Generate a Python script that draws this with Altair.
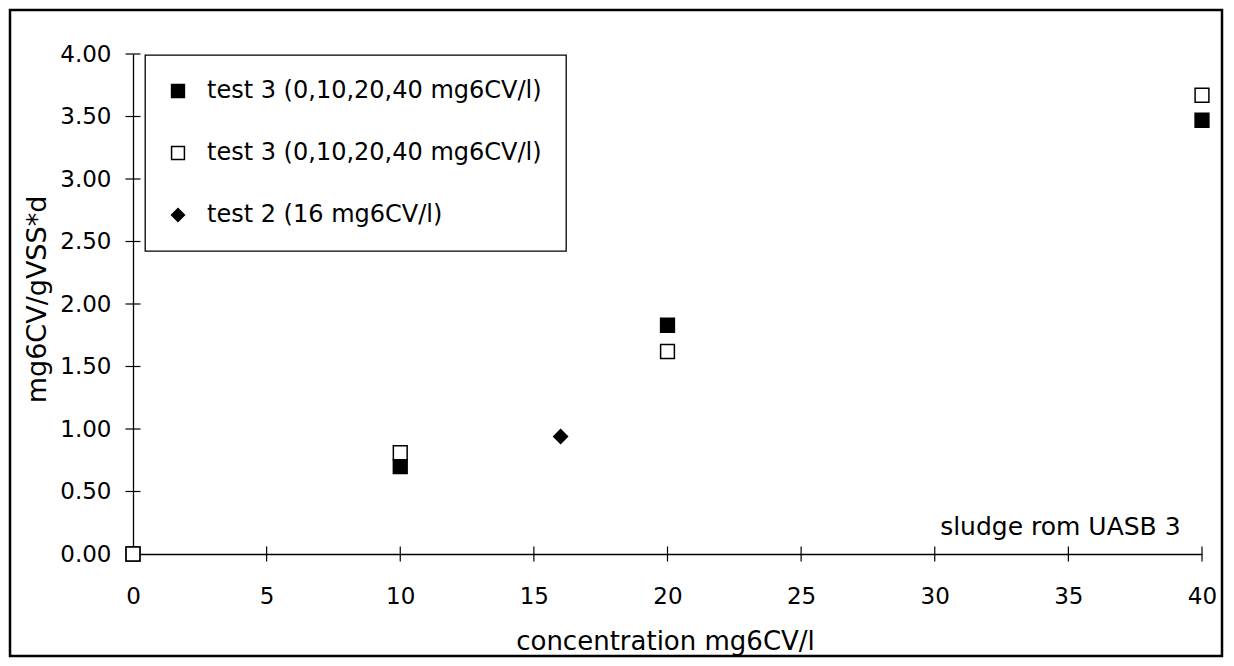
import altair as alt
import pandas as pd

# ---- data ----
x_filled = [0, 10, 20, 40]
y_filled = [0.00, 0.70, 1.83, 3.47]
x_open = [0, 10, 20, 40]
y_open = [0.00, 0.81, 1.62, 3.67]
x_diamond = [16]
y_diamond = [0.94]

series_keys = ["a", "b", "c"]
series_labels = ["test 3 (0,10,20,40 mg6CV/l)",
                 "test 3 (0,10,20,40 mg6CV/l)",
                 "test 2 (16 mg6CV/l)"]

x_ticks = [0, 5, 10, 15, 20, 25, 30, 35, 40]
y_ticks = [0.0, 0.5, 1.0, 1.5, 2.0, 2.5, 3.0, 3.5, 4.0]

note_text = ["sludge rom UASB 3"]
note_x = [39.2]
note_y = [0.22]

x_title = "concentration mg6CV/l"
y_title = "mg6CV/gVSS*d"

FONT = "DejaVu Sans"

# ---- tables ----
rows = []
for x, y in zip(x_filled, y_filled):
    rows.append({"x": x, "y": y, "key": series_keys[0]})
for x, y in zip(x_open, y_open):
    rows.append({"x": x, "y": y, "key": series_keys[1]})
for x, y in zip(x_diamond, y_diamond):
    rows.append({"x": x, "y": y, "key": series_keys[2]})
pts = pd.DataFrame(rows)

xt = pd.DataFrame({"t": x_ticks, "z": [0] * len(x_ticks)})
yt = pd.DataFrame({"t": y_ticks, "z": [0] * len(y_ticks)})
note = pd.DataFrame({"x": note_x, "y": note_y, "txt": note_text})
frame = pd.DataFrame({"d": [0]})

xs = alt.Scale(domain=[0, 40], nice=False, zero=False)
ys = alt.Scale(domain=[0, 4], nice=False, zero=False)

label_expr = "'" + series_labels[-1] + "'"
for k, lab in reversed(list(zip(series_keys[:-1], series_labels[:-1]))):
    label_expr = f"datum.value == '{k}' ? '{lab}' : " + label_expr

legend = alt.Legend(
    title=None, orient="none", legendX=12, legendY=1,
    labelExpr=label_expr, strokeColor="black", fillColor="white",
    padding=24, rowPadding=38, labelOffset=17, symbolOffset=-3,
    symbolSize=165,
    labelFontSize=24, labelFont=FONT, labelColor="black",
    symbolStrokeColor="black", symbolStrokeWidth=1.5, labelLimit=800,
)

x_axis = alt.Axis(
    values=x_ticks, format="d", ticks=False, grid=False,
    labelPadding=31, labelFontSize=23, labelFont=FONT, labelColor="black",
    labelFlush=False, labelOverlap=False,
    title=x_title, titleFont=FONT, titleFontSize=26, titleFontWeight="normal",
    titleColor="black", titleX=532, titleY=87, titleBaseline="middle",
    titleAlign="center",
    domainColor="black", domainWidth=1.3,
)
y_axis = alt.Axis(
    values=y_ticks, format=".2f", ticks=False, grid=False,
    labelPadding=22, labelFontSize=23, labelFont=FONT, labelColor="black",
    labelFlush=False, labelOverlap=False,
    title=y_title, titleFont=FONT, titleFontSize=27, titleFontWeight="normal",
    titleColor="black", titleX=-96, titleY=245, titleBaseline="middle",
    titleAlign="center", titleAngle=270,
    domainColor="black", domainWidth=1.3,
)

W, H = 1069, 500

border = alt.Chart(frame).mark_rect(
    fill="white", fillOpacity=0, stroke="black", strokeWidth=2.5
).encode(
    x=alt.value(-123), x2=alt.value(1089),
    y=alt.value(-44), y2=alt.value(602),
)

xtick_layer = alt.Chart(xt).mark_tick(
    orient="vertical", size=15, thickness=1.2, color="black", opacity=1
).encode(
    x=alt.X("t:Q", scale=xs, axis=x_axis, title=x_title),
    y=alt.Y("z:Q", scale=ys, axis=y_axis, title=y_title),
)

ytick_layer = alt.Chart(yt).mark_tick(
    orient="horizontal", size=15, thickness=1.2, color="black", opacity=1
).encode(
    x=alt.X("z:Q", scale=xs, axis=x_axis, title=x_title),
    y=alt.Y("t:Q", scale=ys, axis=y_axis, title=y_title),
)

points = alt.Chart(pts).mark_point(
    filled=True, stroke="black", strokeWidth=1.5, size=190, opacity=1
).encode(
    x=alt.X("x:Q", scale=xs, axis=x_axis, title=x_title),
    y=alt.Y("y:Q", scale=ys, axis=y_axis, title=y_title),
    fill=alt.Fill("key:N", scale=alt.Scale(domain=series_keys,
                                           range=["black", "white", "black"]),
                  legend=legend),
    shape=alt.Shape("key:N", scale=alt.Scale(domain=series_keys,
                                             range=["square", "square", "diamond"]),
                    legend=legend),
    stroke=alt.Stroke("key:N", scale=alt.Scale(domain=series_keys,
                                               range=["black", "black", "black"]),
                      legend=legend),
)

note_layer = alt.Chart(note).mark_text(
    align="right", baseline="middle", fontSize=25, font=FONT, color="black"
).encode(
    x=alt.X("x:Q", scale=xs, axis=x_axis, title=x_title),
    y=alt.Y("y:Q", scale=ys, axis=y_axis, title=y_title),
    text="txt:N",
)

chart = alt.layer(border, xtick_layer, ytick_layer, points, note_layer).properties(
    width=W, height=H,
    autosize=alt.AutoSizeParams(type="none"),
    padding={"left": 125, "top": 46, "right": 22, "bottom": 104},
    background="white",
).configure_view(stroke=None).configure_legend(strokeWidth=1.3)

chart.save("out.html", embed_options={"renderer": "svg", "actions": False})
